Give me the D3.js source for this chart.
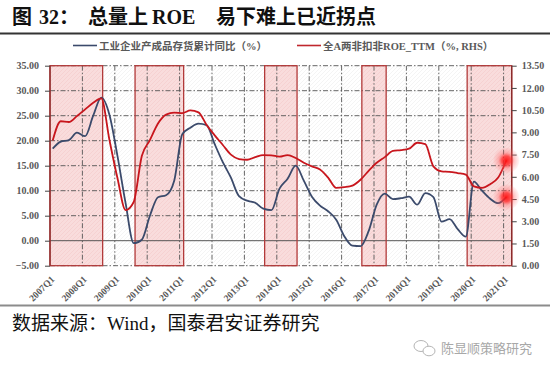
<!DOCTYPE html>
<meta charset="utf-8">
<script src="https://cdnjs.cloudflare.com/ajax/libs/d3/7.8.5/d3.min.js"></script>
<style>
  body { margin: 0; background: #fff; }
</style>
<div id="chart"></div>

<script>
  // tick labels on the x axis (one per year)
  const yearLabels = ['2007Q1', '2008Q1', '2009Q1', '2010Q1', '2011Q1', '2012Q1', '2013Q1', '2014Q1',
    '2015Q1', '2016Q1', '2017Q1', '2018Q1', '2019Q1', '2020Q1', '2021Q1']

  // quarterly categories 2007Q1 .. 2021Q1
  const quarters = []
  for (let y = 2007; y <= 2021; y++) {
    for (let q = 1; q <= 4; q++) {
      if (y === 2021 && q > 1) break
      quarters.push(y + 'Q' + q)
    }
  }

  // 工业企业产成品存货累计同比 (%), left axis
  const inventoryYoY = [18.4, 19.8, 20.1, 21.6, 20.9, 25.0, 28.6, 25.2,
    16.9, 7.5, -0.5, 0.2, 5.0, 8.7, 9.1, 12.0,
    21.3, 22.6, 23.4, 23.1, 19.3, 15.7, 12.6, 8.9,
    8.0, 7.6, 6.4, 6.1, 10.4, 12.4, 15.0, 12.0,
    8.8, 7.0, 5.9, 4.2, 0.9, -1.0, -1.1, 1.9,
    7.2, 9.4, 8.3, 8.5, 8.8, 7.2, 9.5, 8.7,
    3.8, 4.3, 2.3, 0.8, 11.8, 10.0, 8.4, 7.5,
    8.7]

  // 全A两非扣非ROE_TTM (%), right axis
  const roeTTM = [8.45, 9.75, 9.7, 10.1, 10.55, 11.0, 11.3, 8.5,
    5.9, 3.75, 4.3, 7.4, 8.48, 9.6, 10.2, 10.33,
    10.3, 10.48, 10.35, 9.5, 8.8, 8.15, 7.5, 7.2,
    7.15, 7.33, 7.47, 7.45, 7.36, 7.47, 7.27, 6.95,
    6.7, 6.5, 5.95, 5.25, 5.3, 5.4, 5.8, 6.4,
    6.95, 7.33, 7.75, 7.8, 7.9, 8.3, 8.2, 6.7,
    6.37, 6.34, 6.25, 6.15, 5.35, 5.25, 5.5, 5.95,
    7.1]

  // shaded periods (first and last quarter)
  const shadePeriods = [['2007Q1', '2008Q3'], ['2009Q4', '2011Q1'], ['2013Q4', '2014Q3'],
    ['2016Q4', '2017Q2'], ['2020Q1', '2021Q1']]

  const leftTicks = [-5, 0, 5, 10, 15, 20, 25, 30, 35]
  const rightTicks = [0, 1.5, 3, 4.5, 6, 7.5, 9, 10.5, 12, 13.5]

  const width = 550
  const height = 368
  const plot = { left: 50, right: 511.7, top: 65.7, bottom: 265.7 }

  const serif = '"Liberation Serif", "Times New Roman", "Noto Sans CJK SC", serif'
  const cjk = '"Liberation Serif", "Noto Sans CJK SC", serif'

  const svg = d3.select('#chart').append('svg')
    .attr('width', width)
    .attr('height', height)
    .style('font-family', serif)

  svg.append('rect').attr('width', width).attr('height', height).attr('fill', '#fff')

  const defs = svg.append('defs')
  const hatch = defs.append('pattern').attr('id', 'hatch').attr('patternUnits', 'userSpaceOnUse')
    .attr('width', 4).attr('height', 4)
  hatch.append('path').attr('d', 'M-1,1 l2,-2 M0,4 l4,-4 M3,5 l2,-2').attr('stroke', '#ececec').attr('stroke-width', 0.6)
  const pinkHatch = defs.append('pattern').attr('id', 'pinkHatch').attr('patternUnits', 'userSpaceOnUse')
    .attr('width', 4).attr('height', 4)
  pinkHatch.append('rect').attr('width', 4).attr('height', 4).attr('fill', '#f9dcdc')
  pinkHatch.append('path').attr('d', 'M-1,1 l2,-2 M0,4 l4,-4 M3,5 l2,-2').attr('stroke', '#f3c9c9').attr('stroke-width', 0.6)

  const glow = defs.append('radialGradient').attr('id', 'glow')
  glow.append('stop').attr('offset', '0%').attr('stop-color', '#ff1010').attr('stop-opacity', 0.95)
  glow.append('stop').attr('offset', '35%').attr('stop-color', '#ff2a2a').attr('stop-opacity', 0.8)
  glow.append('stop').attr('offset', '60%').attr('stop-color', '#ff5050').attr('stop-opacity', 0.35)
  glow.append('stop').attr('offset', '100%').attr('stop-color', '#ff8080').attr('stop-opacity', 0.08)

  // scales
  const x = d3.scaleLinear().domain([0, quarters.length]).range([plot.left, plot.right])
  const yL = d3.scaleLinear().domain([-5, 35]).range([plot.bottom, plot.top])
  const yR = d3.scaleLinear().domain([0, 13.5]).range([plot.bottom, plot.top])
  const px = i => x(i + 1 / 3)

  // title, pieces placed like the original layout
  const title = svg.append('text').attr('y', 24)
    .attr('font-size', 20).attr('font-weight', 'bold').attr('fill', '#111')
    .style('font-family', cjk)
  title.append('tspan').attr('x', 12).text('图')
  title.append('tspan').attr('x', 39).text('32：')
  title.append('tspan').attr('x', 88).text('总量上')
  title.append('tspan').attr('x', 152).text('ROE')
  title.append('tspan').attr('x', 216).text('易下难上已近拐点')
  svg.append('line').attr('x1', 0).attr('x2', width).attr('y1', 33.5).attr('y2', 33.5)
    .attr('stroke', '#333').attr('stroke-width', 2)

  // legend
  const legend = [
    { label: '工业企业产成品存货累计同比（%）', color: '#3b4a6b', x: 73 },
    { label: '全A两非扣非ROE_TTM（%, RHS）', color: '#c0272d', x: 297 }
  ]
  legend.forEach(d => {
    svg.append('line').attr('x1', d.x).attr('x2', d.x + 24).attr('y1', 45.5).attr('y2', 45.5)
      .attr('stroke', d.color).attr('stroke-width', 1.6)
    svg.append('text').attr('x', d.x + 26).attr('y', 49.5)
      .attr('font-size', 10.5).attr('font-weight', 'bold').attr('fill', '#595959')
      .style('font-family', cjk)
      .text(d.label)
  })

  // plot background hatch
  svg.append('rect').attr('x', plot.left).attr('y', plot.top)
    .attr('width', plot.right - plot.left).attr('height', plot.bottom - plot.top)
    .attr('fill', 'url(#hatch)')

  // shaded periods
  const qi = q => quarters.indexOf(q)
  const shadeX = d => x(Math.max(0, qi(d[0]) - 0.5))
  const shadeW = d => {
    const e = qi(d[1]) === quarters.length - 1 ? quarters.length : qi(d[1]) + 0.5
    return x(e) - shadeX(d)
  }
  svg.append('g').selectAll('rect').data(shadePeriods).join('rect')
    .attr('x', shadeX).attr('width', shadeW)
    .attr('y', plot.top).attr('height', plot.bottom - plot.top)
    .attr('fill', 'url(#pinkHatch)')

  // grid
  const dash = '5,2,1.5,2'
  const grid = svg.append('g').attr('stroke', '#555').attr('stroke-width', 0.9)
  grid.selectAll('.h').data(leftTicks).join('line')
    .attr('x1', plot.left).attr('x2', plot.right)
    .attr('y1', d => yL(d)).attr('y2', d => yL(d))
    .attr('stroke-dasharray', d => d === 0 ? null : dash)
    .attr('stroke', d => d === 0 ? '#444' : '#555')
  grid.selectAll('.v').data(yearLabels.slice(1)).join('line')
    .attr('x1', d => x(qi(d))).attr('x2', d => x(qi(d)))
    .attr('y1', plot.top).attr('y2', plot.bottom)
    .attr('stroke-dasharray', dash)

  // shade borders on top of grid
  svg.append('g').selectAll('rect').data(shadePeriods).join('rect')
    .attr('x', shadeX).attr('width', shadeW)
    .attr('y', plot.top).attr('height', plot.bottom - plot.top)
    .attr('fill', 'none').attr('stroke', '#b23a3a').attr('stroke-width', 1.3)

  // axes
  const axisL = svg.append('g').attr('transform', 'translate(' + plot.left + ',0)')
    .call(d3.axisLeft(yL).tickValues(leftTicks).tickSize(5).tickPadding(6).tickFormat(d3.format('.2f')))
  const axisR = svg.append('g').attr('transform', 'translate(' + plot.right + ',0)')
    .call(d3.axisRight(yR).tickValues(rightTicks).tickSize(5).tickPadding(5).tickFormat(d3.format('.2f')))
  ;[axisL, axisR].forEach(a => {
    a.select('.domain').attr('stroke', '#8a2a2a').attr('stroke-width', 1.3)
      .attr('d', 'M0,' + plot.top + 'V' + plot.bottom)
    a.selectAll('.tick line').attr('stroke', '#444')
    a.selectAll('.tick text').attr('font-size', 10).attr('font-weight', 'bold')
      .attr('fill', '#595959').style('font-family', serif)
  })

  // x labels
  svg.append('g').selectAll('text').data(yearLabels).join('text')
    .attr('transform', d => 'translate(' + (x(qi(d)) + 5) + ',' + 280 + ') rotate(-45)')
    .attr('text-anchor', 'end')
    .attr('font-size', 9.5).attr('font-weight', 'bold').attr('fill', '#595959')
    .text(d => d)

  // lines
  const lineL = d3.line().x((d, i) => px(i)).y(d => yL(d)).curve(d3.curveMonotoneX)
  const lineR = d3.line().x((d, i) => px(i)).y(d => yR(d)).curve(d3.curveMonotoneX)
  svg.append('path').datum(inventoryYoY).attr('d', lineL)
    .attr('fill', 'none').attr('stroke', '#3b4a6b').attr('stroke-width', 1.8)
  svg.append('path').datum(roeTTM).attr('d', lineR)
    .attr('fill', 'none').attr('stroke', '#c8161d').attr('stroke-width', 1.8)

  // end markers
  const last = quarters.length - 1
  const ends = [[px(last), yL(inventoryYoY[last])], [px(last), yR(roeTTM[last])]]
  svg.append('g').selectAll('circle').data(ends).join('circle')
    .attr('cx', d => d[0]).attr('cy', d => d[1]).attr('r', 13)
    .attr('fill', 'url(#glow)')

  // footer
  svg.append('line').attr('x1', 0).attr('x2', width).attr('y1', 305.5).attr('y2', 305.5)
    .attr('stroke', '#8c8c8c').attr('stroke-width', 2)
  svg.append('text').attr('x', 12).attr('y', 330)
    .attr('font-size', 19).attr('fill', '#111')
    .style('font-family', cjk)
    .text('数据来源：Wind，国泰君安证券研究')

  // watermark
  const wm = svg.append('g').attr('fill', 'none').attr('stroke', '#b5b5b5').attr('stroke-width', 1)
  wm.append('ellipse').attr('cx', 421).attr('cy', 346).attr('rx', 7).attr('ry', 5.5)
  wm.append('ellipse').attr('cx', 429).attr('cy', 351).attr('rx', 6).attr('ry', 4.8).attr('fill', '#fff')
  svg.append('text').attr('x', 441).attr('y', 353)
    .attr('font-size', 13).attr('fill', '#a8a8a8')
    .style('font-family', '"Noto Sans CJK SC", sans-serif')
    .text('陈显顺策略研究')
</script>
